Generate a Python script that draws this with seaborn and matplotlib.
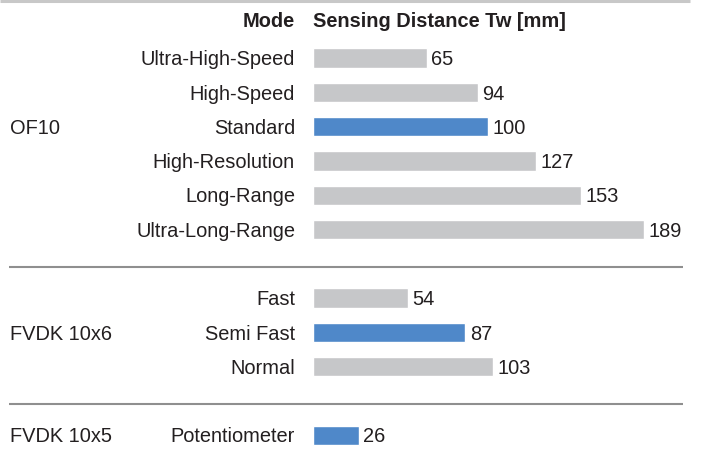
import matplotlib
matplotlib.use("Agg")
import matplotlib.pyplot as plt
import seaborn as sns
import pandas as pd

groups = ["OF10", "FVDK 10x6", "FVDK 10x5"]
modes = ["Ultra-High-Speed", "High-Speed", "Standard", "High-Resolution",
         "Long-Range", "Ultra-Long-Range", "Fast", "Semi Fast", "Normal",
         "Potentiometer"]
group_of_mode = ["OF10"] * 6 + ["FVDK 10x6"] * 3 + ["FVDK 10x5"]
values = [65, 94, 100, 127, 153, 189, 54, 87, 103, 26]
highlight = [False, False, True, False, False, False, False, True, False, True]
header_mode = "Mode"
header_value = "Sensing Distance Tw [mm]"

# row layout (row index per bar, with gaps between groups)
rows = [0, 1, 2, 3, 4, 5, 7, 8, 9, 11]
group_rows = {"OF10": 2, "FVDK 10x6": 8, "FVDK 10x5": 11}
separators = [6.1, 10.1]

GRAY = "#c6c7c9"
BLUE = "#4f88c9"
TXT = "#231f20"

df = pd.DataFrame({"mode": modes, "value": values, "row": rows,
                   "hl": ["hl" if h else "n" for h in highlight]})

sns.set_theme(style="white")
plt.rcParams["font.family"] = ["Liberation Sans", "DejaVu Sans"]

W, H = 701, 449
fig = plt.figure(figsize=(W / 100, H / 100), dpi=100)
ax = fig.add_axes([0, 0, 1, 1])

# pixel mapping
x0_px, px_per_unit = 313.0, 1.752
y0_px, px_per_row = 58.0, 34.3

sns.barplot(data=df, x="value", y="row", hue="hl", orient="y",
            native_scale=True, palette={"hl": BLUE, "n": GRAY},
            width=0.56, legend=False, ax=ax, saturation=1)

ax.set_xlim(-x0_px / px_per_unit, (W - x0_px) / px_per_unit)
ax.set_ylim((H - y0_px) / px_per_row, -y0_px / px_per_row)
ax.axis("off")

def px2x(px):
    return (px - x0_px) / px_per_unit

def px2y(py):
    return (py - y0_px) / px_per_row

fs = 14.4
base = 7.2 / px_per_row   # baseline offset so caps are centred on the bar
for m, v, r in zip(modes, values, rows):
    ax.text(px2x(295), r + base, m, ha="right", va="baseline", fontsize=fs,
            color=TXT)
    ax.text(v + 4.5 / px_per_unit, r + base, str(v), ha="left",
            va="baseline", fontsize=fs, color=TXT)

for g in groups:
    ax.text(px2x(10), group_rows[g] + base, g, ha="left", va="baseline",
            fontsize=fs, color=TXT)

ax.text(px2x(295), px2y(27), header_mode, ha="right", va="baseline",
        fontsize=fs, fontweight="bold", color=TXT)
ax.text(px2x(313), px2y(27), header_value, ha="left", va="baseline",
        fontsize=fs, fontweight="bold", color=TXT)

# lines
ax.plot([px2x(0), px2x(690)], [px2y(1), px2y(1)], color="#c8c8c8", lw=2.2,
        solid_capstyle="butt")
for s in separators:
    ax.plot([px2x(9), px2x(683)], [s, s], color="#8f8f8f", lw=1.5,
            solid_capstyle="butt")

fig.savefig("out.png", dpi=100)
